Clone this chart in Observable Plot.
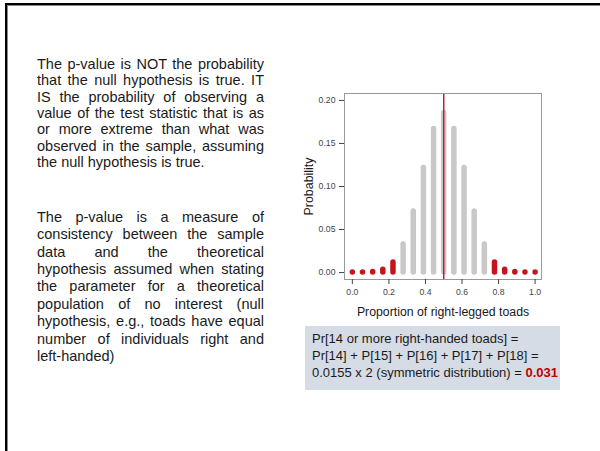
<!DOCTYPE html>
<html><head><meta charset="utf-8">
<script src="https://cdn.jsdelivr.net/npm/d3@7"></script>
<script src="https://cdn.jsdelivr.net/npm/@observablehq/plot@0.6"></script>
<style>
body{margin:0;background:#fff;}
#slide{position:relative;width:600px;height:451px;overflow:hidden;font-family:"Liberation Sans",Arial,sans-serif;color:#1a1a1a;}
#frame{position:absolute;left:5px;top:3px;width:700px;height:600px;border-top:2px solid #000;border-left:2px solid #000;box-shadow:inset 1px 1px 0 #888;}
.para{position:absolute;left:37px;width:227px;font-size:14.5px;line-height:16.3px;}
.para div{text-align:justify;text-align-last:justify;}
.para div.last{text-align-last:left;}
#chart{position:absolute;left:290px;top:80px;}
#note{position:absolute;left:305px;top:326px;width:255px;height:64px;background:#d6dce5;font-size:13px;line-height:17px;padding:4px 0 0 7px;box-sizing:border-box;white-space:nowrap;}
#note b{color:#c00000;}
</style>
</head><body>
<div id="slide">
<div id="frame"></div>
<div class="para" style="top:56.2px">
<div>The p-value is NOT the probability</div>
<div>that the null hypothesis is true. IT</div>
<div>IS the probability of observing a</div>
<div>value of the test statistic that is as</div>
<div>or more extreme than what was</div>
<div>observed in the sample, assuming</div>
<div class="last">the null hypothesis is true.</div>
</div>
<div class="para" style="top:208.7px;line-height:17.4px">
<div>The p-value is a measure of</div>
<div>consistency between the sample</div>
<div>data and the theoretical</div>
<div>hypothesis assumed when stating</div>
<div>the parameter for a theoretical</div>
<div>population of no interest (null</div>
<div>hypothesis, e.g., toads have equal</div>
<div>number of individuals right and</div>
<div class="last">left-handed)</div>
</div>
<div id="chart"></div>
<div id="note">Pr[14 or more right-handed toads] =<br>Pr[14] + P[15] + P[16] + P[17] + P[18] =<br>0.0155 x 2 (symmetric distribution) = <b>0.031</b></div>
</div>
<script>
const counts = [0,1,2,3,4,5,6,7,8,9,10,11,12,13,14,15,16,17,18];
const probabilities = [0.0000038,0.0000687,0.000584,0.003113,0.011673,0.032684,0.070816,0.121399,0.166924,0.185471,0.166924,0.121399,0.070816,0.032684,0.011673,0.003113,0.000584,0.0000687,0.0000038];
const tailCounts = [0,1,2,3,4,14,15,16,17,18];
const nToads = 18;
const nullProportion = 0.5;
const xTicks = [0,0.2,0.4,0.6,0.8,1];
const yTicks = [0,0.05,0.10,0.15,0.20];

const data = counts.map((k,i)=>({proportion:k/nToads, probability:probabilities[i], tail:tailCounts.includes(k)}));

const chart = Plot.plot({
  width:262, height:240, marginLeft:54, marginRight:11, marginTop:13, marginBottom:41,
  style:{fontFamily:"Liberation Sans, Arial, sans-serif", fontSize:"8.7px", background:"transparent", color:"#444"},
  x:{domain:[-0.043,1.035]},
  y:{domain:[-0.0081,0.2081]},
  marks:[
    Plot.ruleX(data.filter(d=>!d.tail),{x:"proportion", y1:0, y2:"probability", stroke:"#c8c8c8", strokeWidth:5.5, strokeLinecap:"round"}),
    Plot.ruleX(data.filter(d=>d.tail),{x:"proportion", y1:0, y2:"probability", stroke:"#c3161c", strokeWidth:5.5, strokeLinecap:"round"}),
    Plot.ruleX([nullProportion],{stroke:"#be1e2d", strokeWidth:1.5}),
    Plot.frame({stroke:"#999"}),
    Plot.axisX({ticks:xTicks, tickFormat:d3.format(".1f"), tickSize:5, tickPadding:4, label:null}),
    Plot.axisY({ticks:yTicks, tickFormat:d3.format(".2f"), tickSize:5, tickPadding:4, label:null}),
    Plot.text(["Proportion of right-legged toads"],{frameAnchor:"bottom", dy:33, fontSize:12.3, fill:"#1a1a1a", textAnchor:"middle", lineAnchor:"middle"}),
    Plot.text(["Probability"],{frameAnchor:"left", dx:-35, rotate:-90, fontSize:12.4, fill:"#1a1a1a", textAnchor:"middle", lineAnchor:"middle"})
  ]
});
document.getElementById("chart").appendChild(chart);
</script>
</body></html>
